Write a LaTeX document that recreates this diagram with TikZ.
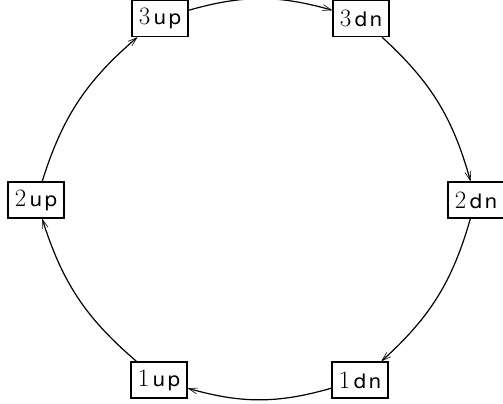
\documentclass[tikz,border=0pt]{standalone}
\usepackage{fontspec}
\usepackage{graphicx}
\newfontfamily\lblsans{TeX Gyre Heros}
\usetikzlibrary{arrows.meta}
\newcommand\lblx[3]{#1\hspace{3.5pt}{\lblsans\fontsize{20}{22}\selectfont\scalebox{1.1}[1]{#2}\hspace{3pt}\scalebox{1.1}[1]{#3}}}
\tikzset{
  statebox/.style={draw, line width=1.4pt, minimum width=56pt, minimum height=36pt,
    inner sep=0pt, font=\fontsize{25}{28}\selectfont},
  link/.style={line width=1.2pt, bend left=16,
    -{Straight Barb[length=9pt,width=6pt,line width=0.6pt]}}
}
\begin{document}
\begin{tikzpicture}[x=1pt,y=1pt]
\useasboundingbox (0,0) rectangle (503,404);
\node[statebox] (u3) at (160,385.5) {\lblx{3}{u}{p}};
\node[statebox] (d3) at (361,385.5) {\lblx{3}{d}{n}};
\node[statebox] (d2) at (476,204) {\lblx{2}{d}{n}};
\node[statebox] (d1) at (360,24) {\lblx{1}{d}{n}};
\node[statebox] (u1) at (159,24) {\lblx{1}{u}{p}};
\node[statebox] (u2) at (36,204) {\lblx{2}{u}{p}};
\draw[link] (u3) to (d3);
\draw[link] (d3) to (d2);
\draw[link] (d2) to (d1);
\draw[link] (d1) to (u1);
\draw[link] (u1) to (u2);
\draw[link] (u2) to (u3);
\end{tikzpicture}
\end{document}
